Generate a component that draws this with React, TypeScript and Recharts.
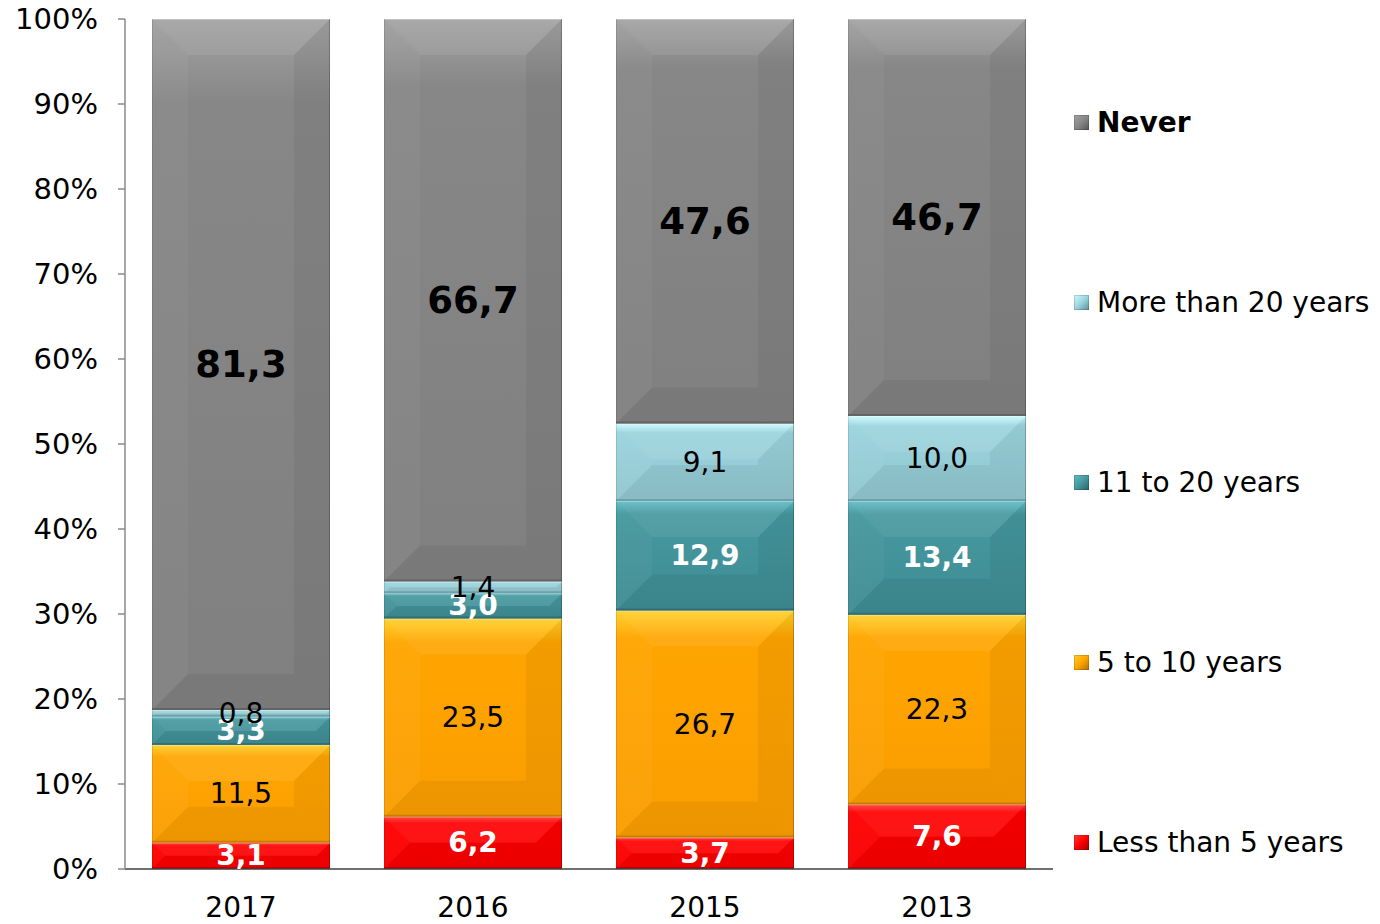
import React from 'react';
import { BarChart, Bar, XAxis, YAxis, LabelList } from 'recharts';

const FONT = '"DejaVu Sans", Verdana, sans-serif';

const years = ['2017', '2016', '2015', '2013'];
const lessThan5 = [3.1, 6.2, 3.7, 7.6];
const fiveTo10 = [11.5, 23.5, 26.7, 22.3];
const elevenTo20 = [3.3, 3.0, 12.9, 13.4];
const moreThan20 = [0.8, 1.4, 9.1, 10.0];
const never = [81.3, 66.7, 47.6, 46.7];
const yTicks = [0, 0.1, 0.2, 0.3, 0.4, 0.5, 0.6, 0.7, 0.8, 0.9, 1];

const data = years.map((year, i) => ({
  year,
  lessThan5: lessThan5[i],
  fiveTo10: fiveTo10[i],
  elevenTo20: elevenTo20[i],
  moreThan20: moreThan20[i],
  never: never[i],
}));

const series = [
  { key: 'lessThan5', name: 'Less than 5 years', values: lessThan5, top: '#ff3c3c', fill: '#ff0000', bottom: '#f80000', edge: '#a00000', text: '#fff', bold: true, size: 28 },
  { key: 'fiveTo10', name: '5 to 10 years', values: fiveTo10, top: '#ffd02a', fill: '#ffa500', bottom: '#fa9e00', edge: '#b07000', text: '#000', bold: false, size: 28 },
  { key: 'elevenTo20', name: '11 to 20 years', values: elevenTo20, top: '#62bcc4', fill: '#45989f', bottom: '#3f8c93', edge: '#2a6268', text: '#fff', bold: true, size: 28 },
  { key: 'moreThan20', name: 'More than 20 years', values: moreThan20, top: '#cbfbff', fill: '#9bd4de', bottom: '#90c6cf', edge: '#5e8e96', text: '#000', bold: false, size: 28 },
  { key: 'never', name: 'Never', values: never, top: '#a2a2a2', fill: '#878787', bottom: '#808080', edge: '#555555', text: '#000', bold: true, size: 37 },
];

const BevelBar: React.FC<any> = (props) => {
  const { x, y, width, height, gid, edge } = props;
  if (!height || height <= 0) return null;
  const b = Math.min(36, height / 2, width / 2);
  const x2 = x + width;
  const y2 = y + height;
  return (
    <g>
      <rect x={x} y={y} width={width} height={height} fill={`url(#${gid})`} />
      <polygon points={`${x},${y} ${x2},${y} ${x2 - b},${y + b} ${x + b},${y + b}`} fill="#fff" fillOpacity={0.08} />
      <polygon points={`${x},${y} ${x + b},${y + b} ${x + b},${y2 - b} ${x},${y2}`} fill="#fff" fillOpacity={0.04} />
      <polygon points={`${x2},${y} ${x2},${y2} ${x2 - b},${y2 - b} ${x2 - b},${y + b}`} fill="#000" fillOpacity={0.05} />
      <polygon points={`${x},${y2} ${x + b},${y2 - b} ${x2 - b},${y2 - b} ${x2},${y2}`} fill="#000" fillOpacity={0.05} />
      <line x1={x} y1={y + 0.5} x2={x2} y2={y + 0.5} stroke="#fff" strokeOpacity={0.3} />
      <line x1={x} y1={y2 - 1} x2={x2} y2={y2 - 1} stroke={edge} strokeWidth={2} strokeOpacity={0.6} />
      <line x1={x + 0.5} y1={y} x2={x + 0.5} y2={y2} stroke="#000" strokeOpacity={0.1} />
      <line x1={x2 - 0.5} y1={y} x2={x2 - 0.5} y2={y2} stroke="#000" strokeOpacity={0.22} />
    </g>
  );
};

const makeLabel = (s: (typeof series)[number]) => (p: any) => {
  const { x, y, width, height, index } = p;
  const v = s.values[index];
  return (
    <text
      x={x + width / 2}
      y={y + height / 2}
      textAnchor="middle"
      dominantBaseline="central"
      fill={s.text}
      fontSize={s.size}
      fontWeight={s.bold ? 'bold' : 'normal'}
      fontFamily={FONT}
    >
      {v.toFixed(1).replace('.', ',')}
    </text>
  );
};

const legendCenters = [842, 662, 482, 302, 122];

const App: React.FC = () => {
  return (
    <div style={{ position: 'absolute', left: 0, top: 0, width: 1380, height: 924, background: '#fff' }}>
      <BarChart
        width={1380}
        height={924}
        data={data}
        stackOffset="expand"
        margin={{ top: 19, right: 327, left: 0, bottom: 0 }}
      >
        <defs>
          {series.map((s) => (
            <linearGradient key={s.key} id={`g-${s.key}`} x1="0" y1="0" x2="0" y2="1">
              <stop offset="0%" stopColor={s.top} />
              <stop offset="12%" stopColor={s.fill} />
              <stop offset="100%" stopColor={s.bottom} />
            </linearGradient>
          ))}
        </defs>
        <XAxis
          dataKey="year"
          height={55}
          tickLine={false}
          tickSize={0}
          tickMargin={28}
          axisLine={{ stroke: '#404040', strokeWidth: 1.5 }}
          tick={{ fill: '#000', fontSize: 28, fontFamily: FONT }}
        />
        <YAxis
          width={125}
          domain={[0, 1]}
          ticks={yTicks}
          tickSize={7}
          tickMargin={20}
          tickFormatter={(v: number) => `${Math.round(v * 100)}%`}
          axisLine={{ stroke: '#8a8a8a', strokeWidth: 1.5 }}
          tickLine={{ stroke: '#8a8a8a', strokeWidth: 1.5 }}
          tick={{ fill: '#000', fontSize: 29, fontFamily: FONT }}
        />
        {series.map((s) => (
          <Bar
            key={s.key}
            dataKey={s.key}
            name={s.name}
            stackId="a"
            barSize={178}
            isAnimationActive={false}
            shape={(p: any) => <BevelBar {...p} gid={`g-${s.key}`} edge={s.edge} />}
          >
            <LabelList content={makeLabel(s)} />
          </Bar>
        ))}
      </BarChart>
      {series.map((s, i) => (
        <div
          key={s.key}
          style={{
            position: 'absolute',
            left: 1074,
            top: legendCenters[i] - 18,
            height: 36,
            display: 'flex',
            alignItems: 'center',
            fontFamily: FONT,
            fontSize: 28,
            fontWeight: s.key === 'never' ? 'bold' : 'normal',
            color: '#000',
            whiteSpace: 'nowrap',
          }}
        >
          <span
            style={{
              display: 'inline-block',
              width: 15,
              height: 15,
              marginRight: 8,
              background: `linear-gradient(135deg, ${s.top}, ${s.fill} 50%, ${s.edge})`,
              boxShadow: 'inset 0 0 0 1px rgba(0,0,0,0.15)',
            }}
          />
          {s.name}
        </div>
      ))}
    </div>
  );
};

export default App;
